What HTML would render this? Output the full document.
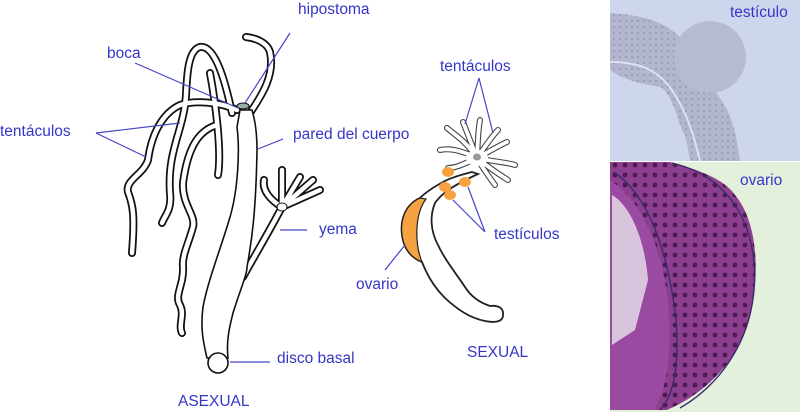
<!DOCTYPE html>
<html><head><meta charset="utf-8"><style>
html,body{margin:0;padding:0;background:#fff;width:800px;height:412px;overflow:hidden}
svg{display:block}
text{font-family:"Liberation Sans",sans-serif;font-size:15.5px;fill:#3535c8}
</style></head><body>
<svg width="800" height="412" viewBox="0 0 800 412" xmlns="http://www.w3.org/2000/svg">
<defs>
<pattern id="dots" width="10" height="10" patternUnits="userSpaceOnUse">
<rect width="10" height="10" fill="#8d3f8f"/><circle cx="5" cy="5" r="2.4" fill="#4a1a50"/>
</pattern>
<pattern id="gr" width="6" height="6" patternUnits="userSpaceOnUse">
<rect width="6" height="6" fill="#b2b7cf"/><circle cx="2" cy="3" r="0.9" fill="#8a8ea6"/>
</pattern>
</defs>
<!-- photos -->
<rect x="610" y="0" width="190" height="161" fill="#cdd6ec"/>
<path d="M610,13 C640,15 655,20 667,27 C690,40 700,70 710,87 C725,100 735,120 740,161 L690,161 C687,140 684,130 683,133 C675,110 670,92 660,87 C645,84 630,83 610,70 Z" fill="url(#gr)"/>
<circle cx="710" cy="57" r="36" fill="#b6bbd2"/>
<path d="M610,62 C640,62 660,70 675,95 C688,115 695,140 700,161" fill="none" stroke="#dde2f0" stroke-width="2"/>
<rect x="610" y="162" width="190" height="250" fill="#e3f0dc"/>
<path d="M610,162 L670,162 C700,170 725,180 735,195 C752,215 758,250 755,285 C752,320 742,345 730,360 C715,380 695,398 667,410 L610,410 Z" fill="url(#dots)"/>
<path d="M610,180 C640,200 660,240 668,300 C672,350 668,385 655,410 L610,410 Z" fill="#9a4aa0"/>
<path d="M612,195 C630,205 645,240 648,280 L635,330 L612,345 Z" fill="#e8e2ec" opacity="0.8"/>
<path d="M614,172 C648,195 668,250 676,320 C680,370 672,398 660,410" fill="none" stroke="#3a2a6a" stroke-width="1.4"/>
<path d="M672,163 C745,180 762,250 752,305 C745,345 720,385 680,408" fill="none" stroke="#3a2a6a" stroke-width="1.4"/>

<!-- asexual hydra tubes -->
<g fill="none" stroke-linecap="round" stroke-linejoin="round">
<g stroke="#111" stroke-width="8">
<path d="M232,113 C225,80 215,45 200,47 C188,50 187,75 186,95 C184,130 167,150 170,193 C172,210 165,215 162,223"/>
<path d="M237,110 C220,102 195,100 180,105 C165,112 152,130 148,160 C143,175 125,180 128,192 C133,205 135,215 132,253"/>
<path d="M217,125 C200,130 188,145 183,183 C182,205 196,215 193,227 C188,245 182,255 183,267 C184,285 174,295 180,305 C185,315 178,325 182,333"/>
<path d="M210,73 C215,100 222,150 218,175"/>
<path d="M250,113 C262,95 275,75 270,52 C267,42 255,38 246,37"/>
<path d="M243,277 C255,255 270,230 282,207"/>
<path d="M282,207 C270,200 262,190 264,180 M282,207 L282,170 M282,207 L300,177 M282,207 L313,180 M282,207 L320,190"/>
</g>
<g stroke="#fff" stroke-width="4.5">
<path d="M232,113 C225,80 215,45 200,47 C188,50 187,75 186,95 C184,130 167,150 170,193 C172,210 165,215 162,223"/>
<path d="M237,110 C220,102 195,100 180,105 C165,112 152,130 148,160 C143,175 125,180 128,192 C133,205 135,215 132,253"/>
<path d="M217,125 C200,130 188,145 183,183 C182,205 196,215 193,227 C188,245 182,255 183,267 C184,285 174,295 180,305 C185,315 178,325 182,333"/>
<path d="M210,73 C215,100 222,150 218,175"/>
<path d="M250,113 C262,95 275,75 270,52 C267,42 255,38 246,37"/>
<path d="M243,277 C255,255 270,230 282,207"/>
<path d="M282,207 C270,200 262,190 264,180 M282,207 L282,170 M282,207 L300,177 M282,207 L313,180 M282,207 L320,190"/>
</g>
</g>
<path d="M240,110 L237,127 C240,150 238,190 230,217 C222,245 208,280 203,307 C200,330 204,345 207,358 L228,358 C226,340 230,325 233,313 C240,290 247,275 247,267 C252,240 256,210 257,150 C257,135 255,120 252,110 Z" fill="#fff" stroke="#111" stroke-width="1.6"/>
<ellipse cx="218" cy="363" rx="10" ry="10" fill="#fff" stroke="#111" stroke-width="1.6"/>
<ellipse cx="243" cy="106" rx="6" ry="3" fill="#9aa" stroke="#111"/>
<ellipse cx="282" cy="207" rx="5" ry="4" fill="#fff" stroke="#111"/>

<!-- sexual hydra -->
<g fill="none" stroke-linecap="round">
<g stroke="#444" stroke-width="6">
<path d="M477,158 C460,150 450,148 440,150 M477,158 C465,140 455,135 447,128 M477,158 C470,140 466,130 463,122 M477,158 C478,140 478,130 480,120 M477,158 C488,142 493,135 498,130 M477,158 C492,150 500,145 507,142 M477,158 C495,162 505,162 515,165 M477,158 C492,170 500,175 508,180 M477,158 C485,172 490,178 495,185 M477,158 C462,165 455,168 448,168"/>
</g>
<g stroke="#fff" stroke-width="3.8">
<path d="M477,158 C460,150 450,148 440,150 M477,158 C465,140 455,135 447,128 M477,158 C470,140 466,130 463,122 M477,158 C478,140 478,130 480,120 M477,158 C488,142 493,135 498,130 M477,158 C492,150 500,145 507,142 M477,158 C495,162 505,162 515,165 M477,158 C492,170 500,175 508,180 M477,158 C485,172 490,178 495,185 M477,158 C462,165 455,168 448,168"/>
</g>
</g>
<ellipse cx="477" cy="158" rx="11" ry="8" fill="#fff"/>
<ellipse cx="477" cy="157" rx="4" ry="3.5" fill="#999"/>
<path d="M472,172 C460,175 450,178 443,182 C432,188 425,193 420,198 C405,205 400,220 402,235 C404,250 412,258 422,262 C426,272 432,285 445,298 C458,310 470,318 485,321 C495,323 503,322 503,315 C504,308 498,305 490,306 C478,302 470,295 465,287 C455,272 445,260 438,245 C430,230 430,215 435,203 C442,193 452,186 478,174 Z" fill="#fff" stroke="#222" stroke-width="1.8"/>
<path d="M420,198 C405,205 400,220 402,235 C404,250 412,258 422,262 C415,245 414,215 426,199 Z" fill="#f6a240" stroke="#222" stroke-width="1.2"/>
<ellipse cx="448" cy="172" rx="6" ry="5" fill="#f6a240"/>
<ellipse cx="445" cy="187" rx="6" ry="5" fill="#f6a240"/>
<ellipse cx="465" cy="182" rx="6" ry="5" fill="#f6a240"/>
<ellipse cx="450" cy="195" rx="6" ry="5" fill="#f6a240"/>

<!-- leader lines -->
<g stroke="#4545c8" stroke-width="1.2" fill="none">
<path d="M290,33 L245,103"/>
<path d="M135,63 L238,108"/>
<path d="M96,133 L180,123 M96,133 L146,157"/>
<path d="M283,139 L258,149"/>
<path d="M280,230 L307,230"/>
<path d="M230,362 L270,362"/>
<path d="M385,270 L405,245"/>
<path d="M479,78 L465,124 M479,78 L493,133"/>
<path d="M485,232 L453,200 M485,232 L468,187"/>
</g>

<text x="298" y="14">hipostoma</text>
<text x="107" y="58">boca</text>
<text x="0" y="136">tentáculos</text>
<text x="293" y="139">pared del cuerpo</text>
<text x="319" y="234">yema</text>
<text x="277" y="363">disco basal</text>
<text x="178" y="406">ASEXUAL</text>
<text x="356" y="289">ovario</text>
<text x="440" y="71">tentáculos</text>
<text x="494" y="239">testículos</text>
<text x="467" y="357">SEXUAL</text>
<text x="730" y="17">testículo</text>
<text x="740" y="185">ovario</text>
</svg>
</body></html>
